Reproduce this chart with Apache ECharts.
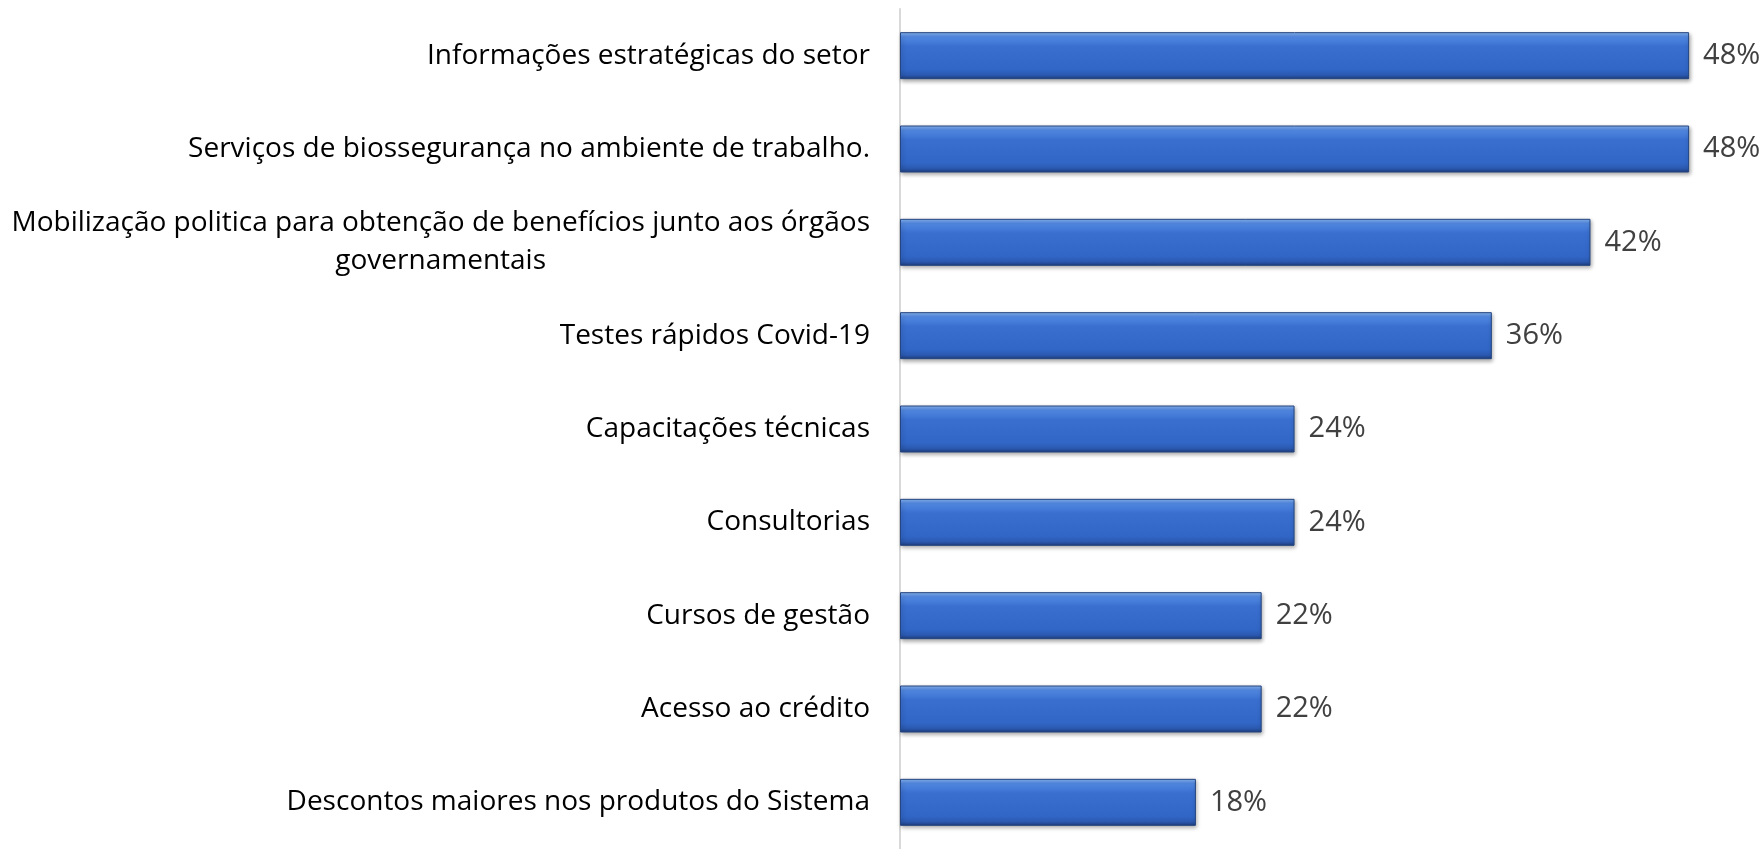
<!DOCTYPE html>
<html>
<head>
<meta charset="utf-8">
<script src="https://cdn.jsdelivr.net/npm/echarts@6/dist/echarts.min.js"></script>
<style>
  html, body { margin: 0; padding: 0; background: #fff; }
  #chart { width: 1762px; height: 849px; }
</style>
</head>
<body>
<div id="chart"></div>
<script>
// categories from top to bottom
var categories = [
  'Informações estratégicas do setor',
  'Serviços de biossegurança no ambiente de trabalho.',
  'Mobilização politica para obtenção de benefícios junto aos órgãos\ngovernamentais',
  'Testes rápidos Covid-19',
  'Capacitações técnicas',
  'Consultorias',
  'Cursos de gestão',
  'Acesso ao crédito',
  'Descontos maiores nos produtos do Sistema'
];
var values = [48, 48, 42, 36, 24, 24, 22, 22, 18];

var labelFont = '28px "Open Sans"';
var measure = document.createElement('canvas').getContext('2d');
measure.font = labelFont;

// multi-line labels: lines centred on the widest one (pad on the right, block is right-aligned)
function categoryLabel(text) {
  var lines = text.split('\n');
  if (lines.length == 1) return text;
  var w = 0;
  lines.forEach(function (l) { w = Math.max(w, measure.measureText(l).width); });
  return lines.map(function (l) {
    var pad = Math.round((w - measure.measureText(l).width) / 2);
    return '{t|' + l + '}' + (pad > 0 ? '{p' + pad + '| }' : '');
  }).join('\n');
}

var richStyles = { t: { fontFamily: 'Open Sans', fontSize: 28, color: '#000', lineHeight: 38 } };
categories.forEach(function (c) {
  var m = categoryLabel(c).match(/\{p\d+\|/g) || [];
  m.forEach(function (k) {
    var n = +k.match(/\d+/)[0];
    richStyles['p' + n] = { width: n, fontSize: 28, lineHeight: 38 };
  });
});

var barColor = new echarts.graphic.LinearGradient(0, 0, 0, 1, [
  { offset: 0, color: '#8ab8f5' },
  { offset: 0.1, color: '#5289e2' },
  { offset: 0.3, color: '#3a6fd0' },
  { offset: 0.8, color: '#3166c6' },
  { offset: 0.92, color: '#2a58ae' },
  { offset: 1, color: '#1d3b78' }
]);

var chart = echarts.init(document.getElementById('chart'));
chart.setOption({
  animation: false,
  grid: { left: 900, top: 9, width: 822, height: 844 },
  xAxis: {
    type: 'value',
    min: 0,
    max: 50,
    show: false
  },
  yAxis: {
    type: 'category',
    data: categories.slice().reverse(),
    axisLine: { show: true, lineStyle: { color: '#d9d9d9', width: 2 } },
    axisTick: { show: false },
    axisLabel: {
      color: '#000',
      fontFamily: 'Open Sans',
      fontSize: 28,
      lineHeight: 38,
      margin: 30,
      align: 'right',
      formatter: categoryLabel,
      rich: richStyles
    }
  },
  series: [{
    type: 'bar',
    data: values.slice().reverse(),
    barWidth: 47,
    itemStyle: {
      color: barColor,
      borderColor: '#24457f',
      borderWidth: 1,
      shadowColor: 'rgba(0,0,0,0.35)',
      shadowBlur: 4,
      shadowOffsetX: 1,
      shadowOffsetY: 2
    },
    label: {
      show: true,
      position: 'right',
      distance: 14,
      formatter: '{c}%',
      color: '#404040',
      fontFamily: 'Open Sans',
      fontSize: 29
    }
  }]
});
</script>
</body>
</html>
